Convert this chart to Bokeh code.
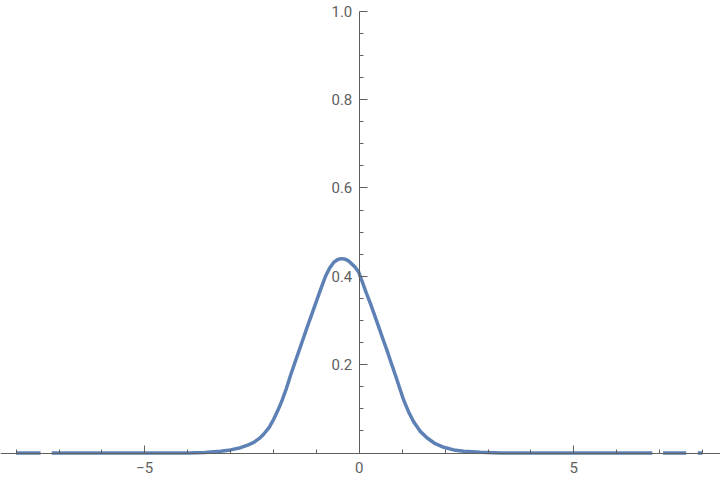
import numpy as np
from bokeh.plotting import figure
from bokeh.models import Range1d, LinearAxis, FixedTicker, CustomJSTickFormatter
from bokeh.embed import file_html
from bokeh.resources import INLINE

nan = float("nan")

# curve values (NaN = gap in the plotted line)
x_vals = [-8.0, -7.43, -7.3, -7.17, -6.0, -5.0, -4.0, -3.6, -3.235, -3.0, -2.77,
          -2.6, -2.46, -2.33, -2.226, -2.1, -1.993, -1.9, -1.80, -1.70, -1.604,
          -1.50, -1.41, -1.30, -1.215, -1.10, -0.98, -0.88, -0.788, -0.69,
          -0.594, -0.50, -0.42, -0.34, -0.27, -0.205, -0.10, -0.012, 0.068,
          0.16, 0.26, 0.36, 0.455, 0.55, 0.65, 0.75, 0.844, 0.94, 1.037, 1.15,
          1.27, 1.42, 1.583, 1.77, 1.97, 2.2, 2.436, 2.825, 3.3, 4.0, 5.0, 6.0,
          6.83, 6.95, 7.08, 7.62, 7.75, 7.89, 8.0]
y_vals = [0.0, 0.0, nan, 0.0, 0.0, 0.0, 0.0, 0.001, 0.004, 0.007, 0.012,
          0.018, 0.024, 0.033, 0.043, 0.058, 0.077, 0.096, 0.119, 0.146, 0.1755,
          0.205, 0.230, 0.261, 0.285, 0.316, 0.349, 0.376, 0.400, 0.419,
          0.432, 0.438, 0.440, 0.439, 0.436, 0.431, 0.421, 0.409, 0.388,
          0.363, 0.338, 0.311, 0.285, 0.258, 0.231, 0.202, 0.1755, 0.147, 0.119, 0.093,
          0.070, 0.049, 0.034, 0.021, 0.013, 0.007, 0.004, 0.0015, 0.0, 0.0, 0.0, 0.0,
          0.0, nan, 0.0, 0.0, nan, 0.0, 0.0]

x_major = [-5, 0, 5]
x_minor = [-8, -7, -6, -4, -3, -2, -1, 1, 2, 3, 4, 6, 7, 8]
y_major = [0.2, 0.4, 0.6, 0.8, 1.0]
y_minor = [0.05, 0.1, 0.15, 0.25, 0.3, 0.35, 0.45, 0.5, 0.55, 0.65, 0.7,
           0.75, 0.85, 0.9, 0.95]

# pixel mapping: x = 0 at 358.8 px, 42.9 px per unit; y = 0 at 452.5 px, 441.7 px per unit
W, H = 720, 483
x_start = -358.8 / 42.9
x_end = (W - 358.8) / 42.9
y_end = 452.5 / 441.7
y_start = (452.5 - H) / 441.7

p = figure(width=W, height=H, output_backend="svg", toolbar_location=None,
           x_range=Range1d(x_start, x_end), y_range=Range1d(y_start, y_end),
           x_axis_type=None, y_axis_type=None, min_border=0)
p.outline_line_color = None
p.background_fill_color = "white"
p.border_fill_color = "white"

p.line(np.array(x_vals), np.array(y_vals), line_color="#5E81B5", line_width=3.5,
       line_join="round")

axis_col = "#5f5f5f"
label_col = "#606060"

xfmt = CustomJSTickFormatter(code="""
return tick < 0 ? "\\u2212" + Math.abs(tick) : String(tick);
""")
yfmt = CustomJSTickFormatter(code="return tick.toFixed(1);")

xaxis = LinearAxis(fixed_location=0,
                   ticker=FixedTicker(ticks=x_major, minor_ticks=x_minor),
                   formatter=xfmt)
yaxis = LinearAxis(fixed_location=0, bounds=(0, 1.0),
                   ticker=FixedTicker(ticks=y_major, minor_ticks=y_minor),
                   formatter=yfmt)
for ax in (xaxis, yaxis):
    ax.axis_line_color = axis_col
    ax.axis_line_width = 1
    ax.major_tick_line_color = axis_col
    ax.minor_tick_line_color = axis_col
    ax.major_tick_in = 8
    ax.major_tick_out = 0
    ax.minor_tick_in = 4
    ax.minor_tick_out = 0
    ax.major_label_text_font = "Roboto"
    ax.major_label_text_font_size = "15px"
    ax.major_label_text_color = label_col
xaxis.major_label_standoff = 9
yaxis.major_label_standoff = 7

p.add_layout(xaxis, "below")
p.add_layout(yaxis, "left")

open("out.html", "w").write(file_html(p, INLINE))
